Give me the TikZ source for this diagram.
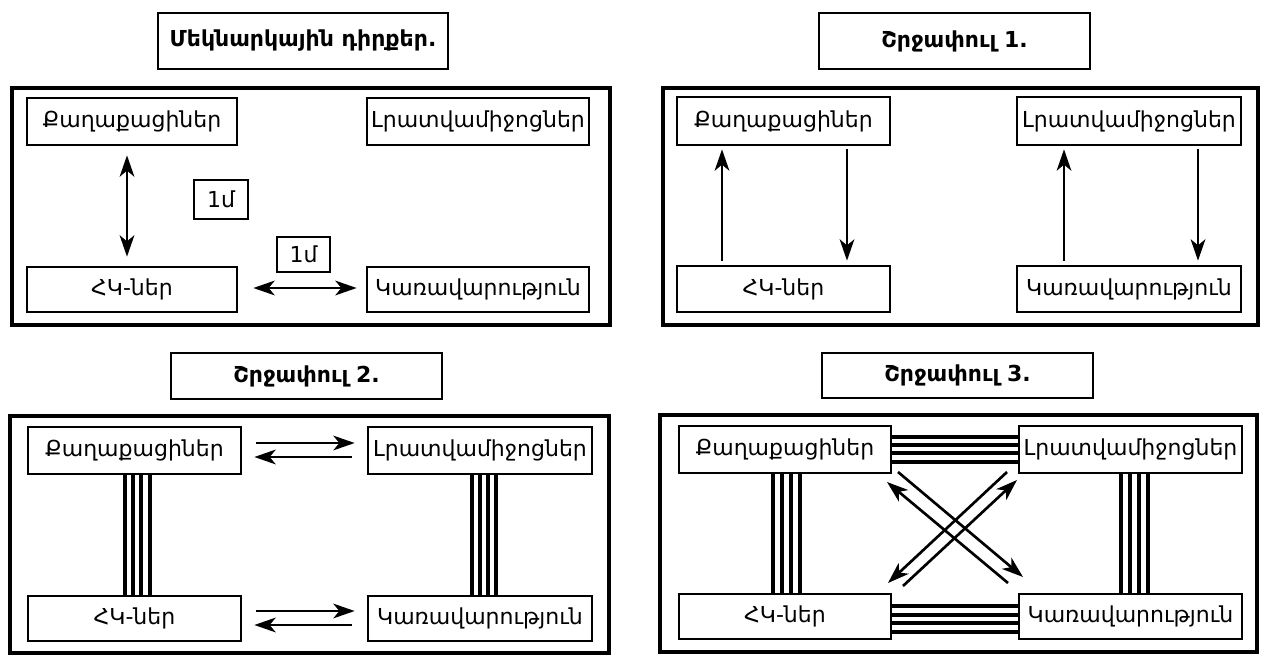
\documentclass[tikz,border=0pt]{standalone}
\usepackage{fontspec}
\setmainfont{DejaVu Sans}
\usetikzlibrary{arrows.meta}
\newcommand\mybox[7][box]{\node[#1, minimum width={(#5-#3)*0.75pt}, minimum height={(#6-#4)*0.75pt}] (#2) at ({(#3+#5)/2},{(#4+#6)/2}) {#7};}
\tikzset{
  box/.style={draw, line width=2pt, inner sep=0pt, font=\fontsize{16.5}{19}\selectfont},
  titlebox/.style={box, font=\fontsize{16.5}{19}\selectfont\bfseries},
  frame/.style={draw, line width=2.8pt},
  tip/.tip={Stealth[length=16pt,width=11pt,inset=4.5pt]},
  arr/.style={line width=2pt, -tip},
  darr/.style={line width=2pt, tip-tip},
  band/.style={line width=2.4pt},
}
\begin{document}
\begin{tikzpicture}[x=0.75pt,y=-0.75pt]
\useasboundingbox[fill=white] (0,0) rectangle (1264,660);
% ---------------- Panel 1
\mybox[titlebox]{t1}{158}{13}{448}{69}{Մեկնարկային դիրքեր.}
\draw[frame] (12,88) rectangle (610,325);
\mybox{q1}{27}{98}{237}{145}{Քաղաքացիներ}
\mybox{l1}{367}{98}{589}{145}{Լրատվամիջոցներ}
\mybox{h1}{27}{267}{237}{312}{ՀԿ-ներ}
\mybox{k1}{367}{267}{589}{312}{Կառավարություն}
\mybox{m1}{194}{180}{248}{219}{1մ}
\mybox{m2}{277}{237}{330}{272}{1մ}
\draw[darr, shorten <=6.75pt, shorten >=6.75pt] (q1.south -| 127,0) -- (h1.north -| 127,0);
\draw[darr, shorten <=11.25pt, shorten >=6.75pt] (h1.east |- 0,288) -- (k1.west |- 0,288);
% ---------------- Panel 2
\mybox[titlebox]{t2}{819}{13}{1090}{69}{Շրջափուլ 1.}
\draw[frame] (663,88) rectangle (1258,325);
\mybox{q2}{677}{97}{890}{145}{Քաղաքացիներ}
\mybox{l2}{1017}{97}{1241}{145}{Լրատվամիջոցներ}
\mybox{h2}{677}{266}{890}{312}{ՀԿ-ներ}
\mybox{k2}{1017}{266}{1241}{312}{Կառավարություն}
\draw[arr, shorten <=3pt, shorten >=2.25pt] (h2.north -| 722,0) -- (q2.south -| 722,0);
\draw[arr, shorten <=2.25pt, shorten >=3pt] (q2.south -| 847,0) -- (h2.north -| 847,0);
\draw[arr, shorten <=3pt, shorten >=2.25pt] (k2.north -| 1064,0) -- (l2.south -| 1064,0);
\draw[arr, shorten <=2.25pt, shorten >=3pt] (l2.south -| 1198,0) -- (k2.north -| 1198,0);
% ---------------- Panel 3
\mybox[titlebox]{t3}{171}{353}{442}{399}{Շրջափուլ 2.}
\draw[frame] (10,416) rectangle (609,653);
\mybox{q3}{28}{427}{241}{474}{Քաղաքացիներ}
\mybox{l3}{368}{427}{592}{474}{Լրատվամիջոցներ}
\mybox{h3}{28}{596}{241}{641}{ՀԿ-ներ}
\mybox{k3}{368}{596}{592}{641}{Կառավարություն}
\draw[arr, shorten <=10.5pt, shorten >=9pt] (q3.east |- 0,443) -- (l3.west |- 0,443);
\draw[arr, shorten <=11.25pt, shorten >=9pt] (l3.west |- 0,457) -- (q3.east |- 0,457);
\draw[arr, shorten <=10.5pt, shorten >=9pt] (h3.east |- 0,611) -- (k3.west |- 0,611);
\draw[arr, shorten <=11.25pt, shorten >=9pt] (k3.west |- 0,625) -- (h3.east |- 0,625);
\foreach \x in {125,133,141,150} \draw[band] (q3.south -| \x,0) -- (h3.north -| \x,0);
\foreach \x in {472,480,488,496} \draw[band] (l3.south -| \x,0) -- (k3.north -| \x,0);
% ---------------- Panel 4
\mybox[titlebox]{t4}{822}{353}{1093}{398}{Շրջափուլ 3.}
\draw[frame] (660,415) rectangle (1257,652);
\mybox{q4}{679}{426}{891}{473}{Քաղաքացիներ}
\mybox{l4}{1019}{426}{1242}{473}{Լրատվամիջոցներ}
\mybox{h4}{679}{594}{891}{639}{ՀԿ-ներ}
\mybox{k4}{1019}{594}{1242}{639}{Կառավարություն}
\foreach \y in {437,445,453,462} \draw[band] (q4.east |- 0,\y) -- (l4.west |- 0,\y);
\foreach \y in {606,615,623,632} \draw[band] (h4.east |- 0,\y) -- (k4.west |- 0,\y);
\foreach \x in {773,782,791,800} \draw[band] (q4.south -| \x,0) -- (h4.north -| \x,0);
\foreach \x in {1121,1130,1139,1148} \draw[band] (l4.south -| \x,0) -- (k4.north -| \x,0);
\coordinate (a1) at (898,472); \coordinate (a2) at (1023,577);
\coordinate (b1) at (1008,583); \coordinate (b2) at (887,482);
\coordinate (c1) at (1007,472); \coordinate (c2) at (888,583);
\coordinate (d1) at (903,586); \coordinate (d2) at (1017,480);
\draw[arr] (a1) -- (a2);
\draw[arr] (b1) -- (b2);
\draw[arr] (c1) -- (c2);
\draw[arr] (d1) -- (d2);
\end{tikzpicture}
\end{document}
